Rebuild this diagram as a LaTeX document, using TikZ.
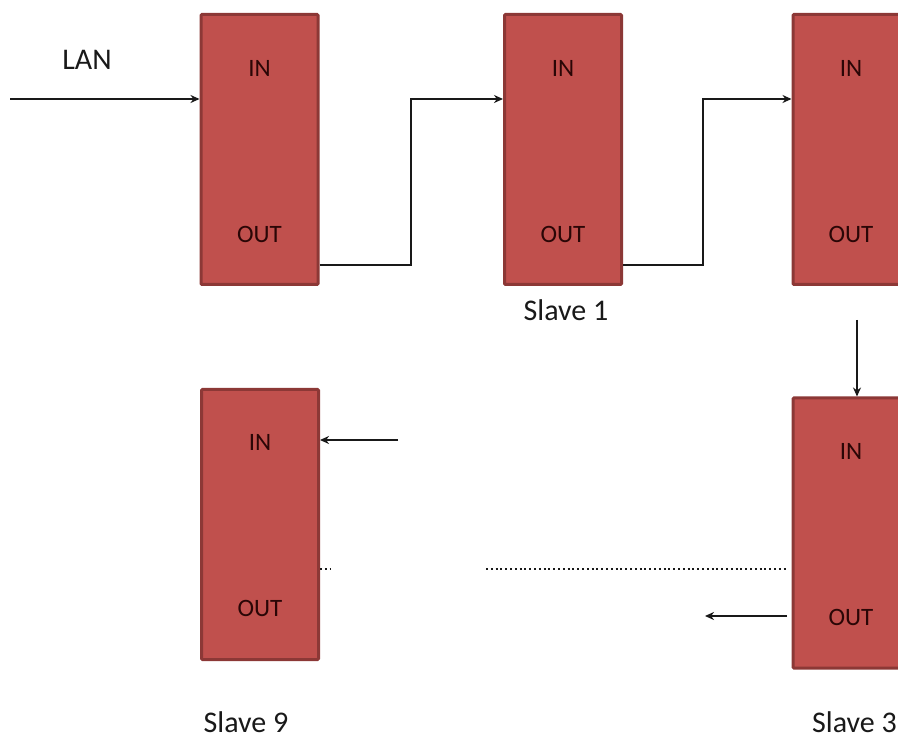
\documentclass[tikz,border=0pt]{standalone}
\usepackage{fontspec}
\setmainfont{Carlito}
\usetikzlibrary{arrows.meta,calc}
\definecolor{boxfill}{HTML}{C0504D}
\definecolor{boxline}{HTML}{8C3836}
\definecolor{boxtext}{HTML}{2A0606}
\tikzset{
  slavebox/.style={draw=boxline,fill=boxfill,line width=3pt,minimum width=117pt,minimum height=270pt,inner sep=0pt,rounded corners=1pt},
  port/.style={text=boxtext,font=\fontsize{25}{28}\selectfont,inner sep=0pt},
  caption/.style={text=black!90,font=\fontsize{30}{34}\selectfont,inner sep=0pt},
  wire/.style={line width=1.8pt,black!90},
  arr/.style={wire,-{Stealth[length=9pt,width=8pt]}},
  dots/.style={line width=2pt,black!90,dash pattern=on 2pt off 2.8pt}
}
\begin{document}
\begin{tikzpicture}[x=1pt,y=-1pt]
\useasboundingbox (0,0) rectangle (898,738);
\clip (0,0) rectangle (898,738);
% boxes
\node[slavebox] (b1) at (259.5,149.5) {};
\node[slavebox] (b2) at (563,149.5) {};
\node[slavebox] (b3) at (851.5,149.5) {};
\node[slavebox] (b4) at (851.5,533) {};
\node[slavebox] (b9) at (260,524.5) {};
% port labels
\node[port] (b1in) at (259.5,68) {IN};
\node[port] (b1out) at (259.5,234) {OUT};
\node[port] (b2in) at (563,68) {IN};
\node[port] (b2out) at (563,234) {OUT};
\node[port] (b3in) at (851,68) {IN};
\node[port] (b3out) at (851,234) {OUT};
\node[port] (b4in) at (851,451) {IN};
\node[port] (b4out) at (851,617) {OUT};
\node[port] (b9in) at (260,442) {IN};
\node[port] (b9out) at (260,608) {OUT};
% captions
\node[caption] (lan) at (87,60) {LAN};
\node[caption] (s1) at (566,310) {Slave 1};
\node[caption] (s9) at (246,722) {Slave 9};
\node[caption,anchor=west] (s3) at (812,722) {Slave 3};
% coordinates
\coordinate (lanstart) at (10,99);
\coordinate (c9in) at (398,440);
\coordinate (c4outend) at (705,616);
\coordinate (c3down) at (857,320);
\coordinate (d1a) at (320,569);
\coordinate (d1b) at (330,569);
\coordinate (d2a) at (486,569);
\coordinate (d2b) at (787,569);
% connectors
\draw[arr] (lanstart) -- (lanstart -| b1.west);
\draw[arr] (b1.east |- 0,265) -- (411,265) -- (411,99) -- (411,99 -| b2.west);
\draw[arr] (b2.east |- 0,265) -- (703,265) -- (703,99) -- (703,99 -| b3.west);
\draw[arr] (c3down) -- (c3down |- b4.north);
\draw[arr] (c9in) -- (c9in -| b9.east);
\draw[arr] (c4outend -| 787,0) -- (c4outend);
\draw[dots] (d1a) -- (d1b);
\draw[dots] (d2a) -- (d2b);
\end{tikzpicture}
\end{document}
